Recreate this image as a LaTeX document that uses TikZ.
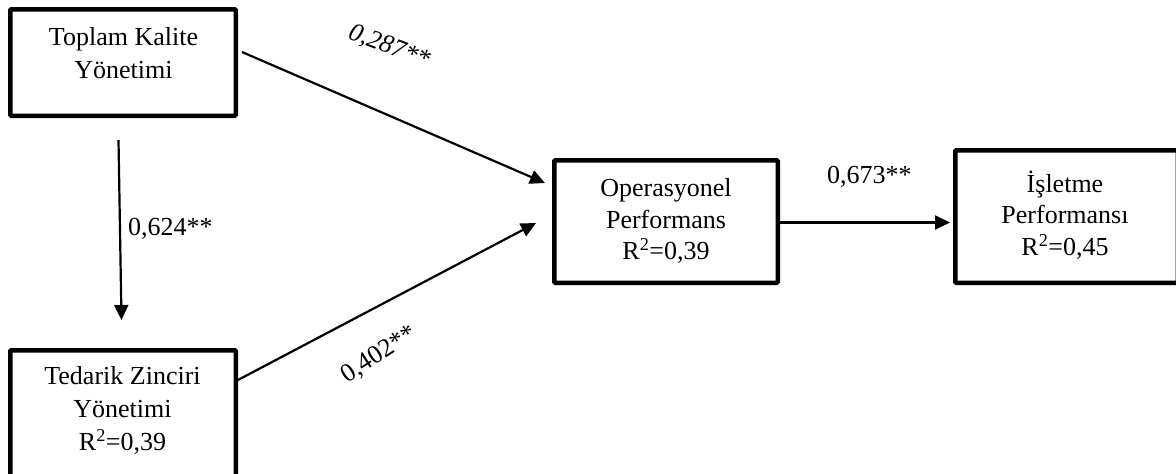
\documentclass[tikz,border=0pt]{standalone}
\usepackage{fontspec}
\setmainfont{Liberation Serif}
\usetikzlibrary{arrows.meta}
\begin{document}
\begin{tikzpicture}[x=1pt,y=-1pt,
  box/.style={draw, line width=4.5pt, inner sep=0pt, rounded corners=1pt},
  txt/.style={align=center, inner sep=0pt, font=\fontsize{26}{33}\selectfont},
  txtc/.style={align=center, inner sep=0pt, font=\fontsize{26}{31.5}\selectfont},
  lbl/.style={inner sep=0pt, font=\fontsize{26}{31}\selectfont},
  lbli/.style={inner sep=0pt, font=\fontsize{26}{31}\selectfont\itshape},
  conn/.style={line width=2.2pt, -{Triangle[length=15pt,width=14pt]}},
]
\useasboundingbox (0,0) rectangle (1176,474);
\fill[white] (0,0) rectangle (1176,474);
\clip (0,0) rectangle (1176,474);

% boxes
\node[box, minimum width=225.5pt, minimum height=106.5pt] (A) at (123,62.5) {};
\node[box, minimum width=225.5pt, minimum height=127.5pt] (B) at (123,414) {};
\node[box, minimum width=223.5pt, minimum height=122.5pt] (C) at (666,221.5) {};
\node[box, minimum width=222.5pt, minimum height=132.5pt] (D) at (1066.5,216.5) {};

% box texts
\node[txt] (tA) at (123.5,53.1) {Toplam Kalite\\Yönetimi};
\node[txt] (tB) at (122.5,410.9) {Tedarik Zinciri\\Yönetimi\\R\textsuperscript{2}=0,39};
\node[txtc] (tC) at (666,221.4) {Operasyonel\\Performans\\R\textsuperscript{2}=0,39};
\node[txtc] (tD) at (1065,215) {İşletme\\Performansı\\R\textsuperscript{2}=0,45};

% connectors
\draw[conn] ([xshift=4pt,yshift=10.5pt]A.east) -- ([xshift=-7pt,yshift=38.5pt]C.west);
\draw[conn] ([xshift=-2pt,yshift=-33pt]B.north east) -- ([xshift=-16pt,yshift=-1.5pt]C.west);
\draw[conn] ([xshift=-4.5pt,yshift=-22pt]A.south) -- ([xshift=-1.5pt,yshift=28pt]B.north);
\draw[conn] ([yshift=-1pt]C.east) -- ([xshift=-3pt,yshift=-6pt]D.west);

% labels
\node[lbli, rotate=-21] (l1) at (389,47) {0,287**};
\node[lbl, anchor=base west] (l2) at (128,235) {0,624**};
\node[lbl, rotate=33] (l3) at (379,355) {0,402**};
\node[lbl, anchor=base west] (l4) at (827,183) {0,673**};
\end{tikzpicture}
\end{document}
